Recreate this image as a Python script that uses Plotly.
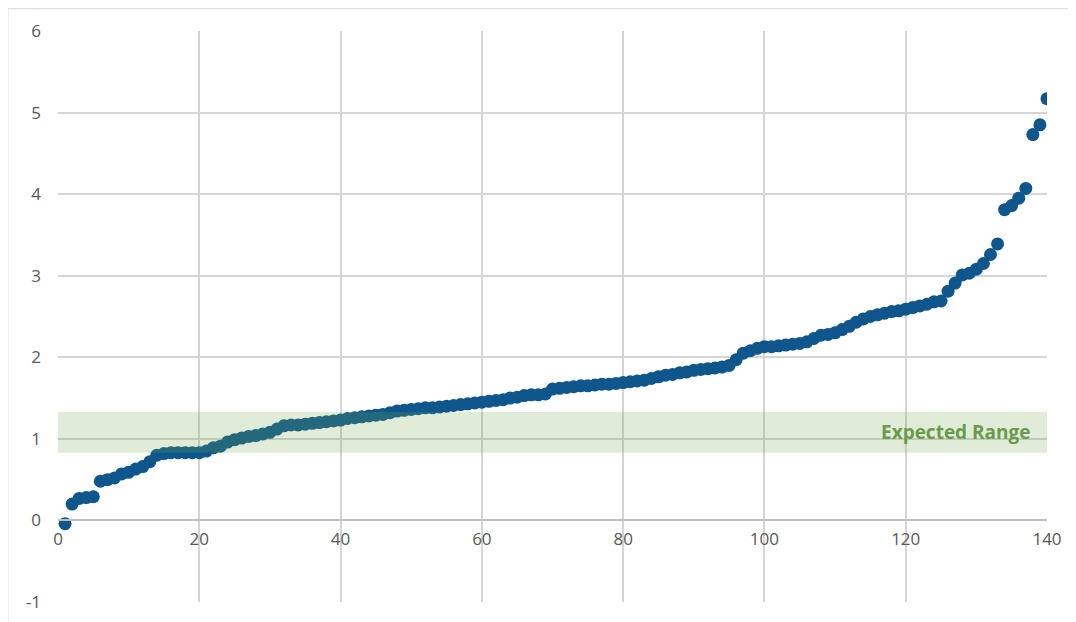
import plotly.graph_objects as go

x_vals = list(range(1, 141))
y_vals = [
    -0.04, 0.20, 0.27, 0.28, 0.29, 0.48, 0.50, 0.52, 0.57, 0.59,
    0.63, 0.66, 0.72, 0.80, 0.82, 0.83, 0.83, 0.83, 0.83, 0.83,
    0.85, 0.89, 0.91, 0.96, 0.99, 1.01, 1.03, 1.04, 1.06, 1.08,
    1.12, 1.16, 1.17, 1.17, 1.18, 1.19, 1.20, 1.21, 1.22, 1.23,
    1.25, 1.26, 1.27, 1.28, 1.29, 1.30, 1.32, 1.34, 1.35, 1.36,
    1.37, 1.38, 1.38, 1.39, 1.40, 1.41, 1.42, 1.43, 1.44, 1.45,
    1.46, 1.47, 1.48, 1.50, 1.51, 1.53, 1.54, 1.54, 1.55, 1.61,
    1.62, 1.63, 1.64, 1.65, 1.65, 1.66, 1.67, 1.67, 1.68, 1.69,
    1.70, 1.71, 1.72, 1.74, 1.76, 1.78, 1.79, 1.81, 1.82, 1.84,
    1.85, 1.86, 1.87, 1.88, 1.90, 1.97, 2.05, 2.08, 2.11, 2.13,
    2.13, 2.14, 2.15, 2.16, 2.17, 2.19, 2.23, 2.27, 2.28, 2.30,
    2.34, 2.38, 2.43, 2.47, 2.50, 2.52, 2.54, 2.56, 2.57, 2.59,
    2.61, 2.63, 2.65, 2.68, 2.69, 2.81, 2.91, 3.01, 3.03, 3.08,
    3.15, 3.26, 3.39, 3.81, 3.86, 3.95, 4.07, 4.73, 4.85, 5.17,
]

band_low = 0.83
band_high = 1.33
band_label = "Expected Range"

x_ticks = [0, 20, 40, 60, 80, 100, 120, 140]
y_ticks = [-1, 0, 1, 2, 3, 4, 5, 6]
y_tick_text = ["-1", "0", "1", "2", "3", "4", "5", "6"]

fig = go.Figure()
fig.add_trace(go.Scatter(
    x=x_vals, y=y_vals, mode="markers",
    marker=dict(color="#0E568C", size=13, line=dict(width=0)),
    showlegend=False,
))

fig.add_shape(type="rect", xref="x", yref="y", x0=0, x1=140,
              y0=band_low, y1=band_high,
              fillcolor="rgba(112,168,72,0.22)", line=dict(width=0),
              layer="above")

fig.add_annotation(x=138, y=(band_low + band_high) / 2, xref="x", yref="y",
                   text="<b>" + band_label + "</b>", showarrow=False,
                   xanchor="right", yanchor="middle",
                   font=dict(family="Open Sans", size=19, color="#6A9A4C"))

# outer chart border
fig.add_shape(type="rect", xref="paper", yref="paper",
              x0=-0.0506, x1=1.2, y0=-0.2, y1=1.039,
              line=dict(color="#D9D9D9", width=1), fillcolor="rgba(0,0,0,0)",
              layer="below")

font_tick = dict(family="Open Sans", size=17, color="#595959")

fig.update_layout(
    width=1076, height=622,
    margin=dict(l=50, r=37, t=23, b=28),
    paper_bgcolor="white", plot_bgcolor="white",
    xaxis=dict(range=[0, 140], tickvals=x_ticks, showgrid=True,
               gridcolor="#D5D5D5", gridwidth=1.5, zeroline=False,
               showline=True, linecolor="#BFBFBF", linewidth=1.5,
               anchor="free", position=1 / 7, ticks="",
               ticklabelstandoff=3, tickfont=font_tick),
    yaxis=dict(range=[-1, 6], tickvals=y_ticks, ticktext=y_tick_text,
               showgrid=True, gridcolor="#D5D5D5", gridwidth=1.5,
               zeroline=False, showline=False, ticks="",
               ticklabelstandoff=16, tickfont=font_tick),
)

fig.write_html("out.html")
